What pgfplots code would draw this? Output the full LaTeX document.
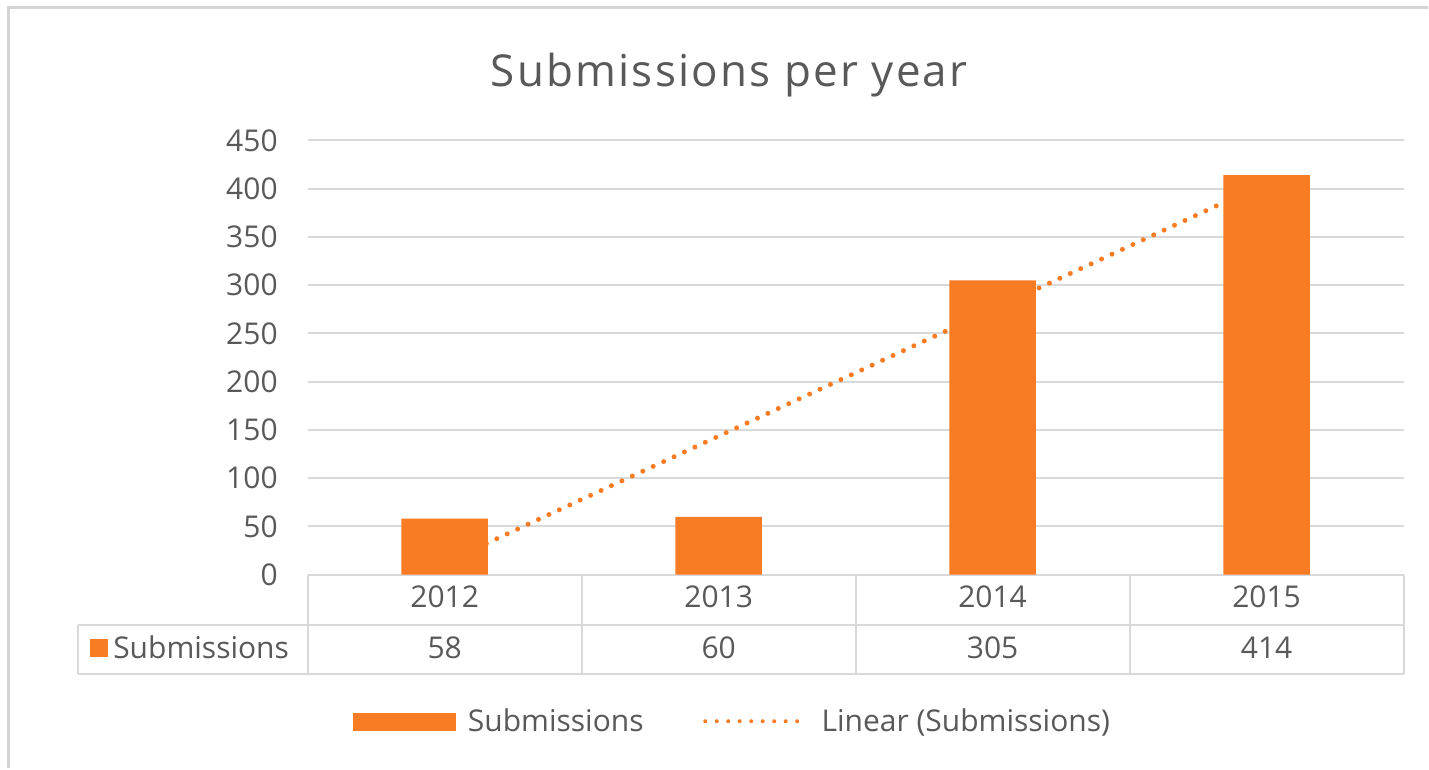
\documentclass[border=0pt]{standalone}
\usepackage{pgfplots}
\pgfplotsset{compat=1.18}
\usepackage{fontspec}
\setmainfont{Open Sans}
\definecolor{barorange}{HTML}{F87C24}
\definecolor{txtgray}{HTML}{595959}
\definecolor{linegray}{HTML}{D9D9D9}
\definecolor{framegray}{HTML}{D4D4D4}
\newcommand{\lblfont}{\fontsize{15}{18}\selectfont}
\begin{document}
\begin{tikzpicture}
% page frame, table and legend (1 unit = 1 px of the reference, y up)
\begin{scope}[x=0.5pt,y=0.5pt]
  \fill[white] (0,0) rectangle (1429,769);
  \draw[framegray, line width=1.5pt] (9,0) -- (9,761.5) -- (1429,761.5);
  \node[anchor=base, text=txtgray, font=\fontsize{22}{26}\selectfont\addfontfeatures{LetterSpace=5}] at (730,682) {Submissions per year};
  % data table
  \begin{scope}[linegray, line width=1pt]
    \draw (308,193.7) -- (1405,193.7);
    \draw (78,143.7) -- (1405,143.7);
    \draw (78,94.7) -- (1405,94.7);
    \draw (78,143.7) -- (78,94.7);
    \foreach \xx in {308,582.25,856.5,1130.75,1405}
      \draw (\xx,193.7) -- (\xx,94.7);
  \end{scope}
  \foreach \xx/\yr/\val in {445.1/2012/58, 719.4/2013/60, 993.6/2014/305, 1267.9/2015/414} {
    \node[anchor=base, text=txtgray, font=\lblfont] at (\xx,161) {\yr};
    \node[anchor=base, text=txtgray, font=\lblfont] at (\xx,110) {\val};
  }
  \fill[barorange] (90,111) rectangle (108,129);
  \node[anchor=base west, inner sep=0pt, text=txtgray, font=\lblfont] at (113,110) {Submissions};
  % legend
  \fill[barorange] (353,37) rectangle (456,55);
  \node[anchor=base west, inner sep=0pt, text=txtgray, font=\lblfont] at (468,37) {Submissions};
  \draw[barorange, line width=2pt, line cap=round, dash pattern=on 0pt off 5.75pt] (706,47) -- (799,47);
  \node[anchor=base west, inner sep=0pt, text=txtgray, font=\lblfont] at (822,37) {Linear (Submissions)};
\end{scope}

\begin{axis}[
    at={(154pt,96.85pt)}, anchor=south west,
    scale only axis,
    width=548.5pt, height=217.35pt,
    xmin=0.5, xmax=4.5,
    ymin=0, ymax=450,
    xtick=\empty,
    ytick={0,50,...,450},
    axis line style={draw=none},
    major tick length=0pt,
    ymajorgrids=true,
    grid style={linegray, line width=1pt},
    /pgf/number format/assume math mode=true,
    yticklabel style={font=\lblfont, text=txtgray, xshift=-11.5pt},
    clip=false,
  ]
  % linear trend of the four values
  \addplot[barorange, line width=2.5pt, line cap=round, dash pattern=on 0pt off 5.75pt]
    coordinates {(1,12.3)(4,406.2)};
  \addplot[ybar, bar width=0.316, fill=barorange, draw=none]
    coordinates {(1,58)(2,60)(3,305)(4,414)};
\end{axis}
\end{tikzpicture}
\end{document}
